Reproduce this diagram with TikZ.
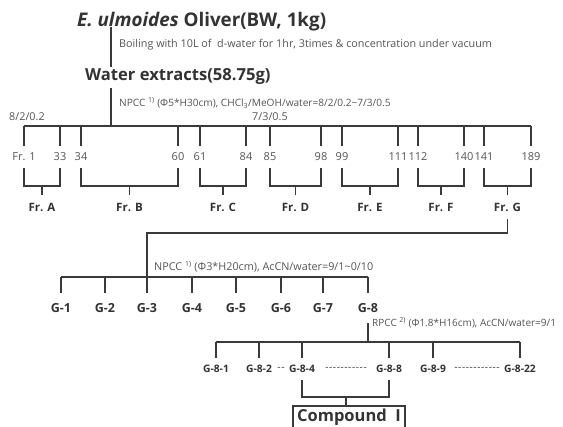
\documentclass[tikz,border=0pt]{standalone}
\usepackage{fontspec}
\setmainfont{Open Sans}
\definecolor{lc}{HTML}{3A3A3A}
\definecolor{tc}{HTML}{333333}
\definecolor{nc}{HTML}{555555}
\newcommand\hyrun[1]{\foreach \i in {1,...,#1}{{-}\hspace{0.6pt}}}
\begin{document}
\begin{tikzpicture}[x=1pt,y=-1pt,
  ln/.style={draw=lc,line width=1.8pt},
  big/.style={font=\bfseries\fontsize{18.8}{21}\selectfont,text=tc,inner sep=0pt,anchor=west},
  note/.style={font=\fontsize{10.8}{12}\selectfont,text=nc,inner sep=0pt,anchor=west},
  num/.style={font=\fontsize{11}{12}\selectfont,text=nc,inner sep=0pt,minimum height=22pt},
  frl/.style={font=\bfseries\fontsize{11.5}{13}\selectfont,text=tc,inner sep=0pt,minimum height=24pt},
  gl/.style={font=\bfseries\fontsize{12.5}{14}\selectfont,text=tc,inner sep=0pt,minimum height=30pt},
  gg/.style={font=\bfseries\fontsize{10.3}{12}\selectfont,text=tc,inner sep=0pt,minimum height=22pt},
  dsh/.style={font=\fontsize{10}{12}\selectfont,text=tc,inner sep=0pt}
]
\useasboundingbox[fill=white] (0,0) rectangle (563,427);

% title and water extracts
\node[big] (title) at (77,22) {\textit{E. ulmoides} Oliver(BW, 1kg)};
\coordinate (t1) at (111,27);
\coordinate (t2) at (111,67);
\draw[ln] (t1) -- (t2);
\node[note] (boil) at (119,45) {Boiling with 10L of \ d-water for 1hr, 3times \& concentration under vacuum};
\node[big,font=\bfseries\fontsize{16.6}{19}\selectfont] (water) at (85,76) {Water extracts(58.75g)};
\coordinate (w1) at (111,88);
\coordinate (w2) at (111,126);
\draw[ln] (w1) -- (w2);
\node[note,font=\fontsize{10.1}{12}\selectfont] (npcc1) at (119,103) {NPCC \textsuperscript{\scriptsize 1)} (Φ5*H30cm), CHCl\textsubscript{3}/MeOH/water=8/2/0.2\textasciitilde7/3/0.5};
\node[note] (r1) at (9,117) {8/2/0.2};
\node[note] (r2) at (252,117) {7/3/0.5};

% fractions
\foreach \a/\b/\la/\lb/\nm in {24/60/Fr. 1/33/A, 81/178/34/60/B, 200/246/61/84/C, 270/321/85/98/D, 342/398/99/111/E, 418/464/112/140/F, 484/531/141/189/G}{
  \coordinate (ta\nm) at (\a,126);
  \coordinate (tb\nm) at (\b,126);
  \node[num] (na\nm) at (\a,157) {\la};
  \node[num] (nb\nm) at (\b,157) {\lb};
  \coordinate (ba\nm) at (\a,186);
  \coordinate (bb\nm) at (\b,186);
  \coordinate (bc\nm) at ({(\a+\b)/2},186);
  \node[frl] (fr\nm) at ({(\a+\b)/2},207) {Fr. \nm};
  \draw[ln] (ta\nm) -- (na\nm.north);
  \draw[ln] (tb\nm) -- (nb\nm.north);
  \draw[ln] (na\nm.south) -- (ba\nm) -- (bb\nm) -- (nb\nm.south);
  \draw[ln] (bc\nm) -- (fr\nm.north);
}
\draw[ln] (taA) -- (tbG);

% Fr. G subfractionation
\coordinate (gtop) at (147,233);
\coordinate (gbar) at (147,277);
\draw[ln] (frG.south) |- (gtop) -- (gbar);
\node[note] (npcc2) at (154,267) {NPCC \textsuperscript{\scriptsize 1)} (Φ3*H20cm), AcCN/water=9/1\textasciitilde0/10};
\foreach \x/\n in {61/1,105/2,147/3,192/4,236/5,281/6,323/7,368/8}{
  \node[gl] (g\n) at (\x,308) {G-\n};
  \coordinate (gt\n) at (\x,277);
  \draw[ln] (gt\n) -- (g\n.north);
}
\draw[ln] (gt1) -- (gt8);

% G-8 subfractionation
\coordinate (h8) at (368,342);
\draw[ln] (g8.south) -- (h8);
\node[note,font=\fontsize{10}{12}\selectfont] (rpcc) at (372,323) {RPCC \textsuperscript{\scriptsize 2)} (Φ1.8*H16cm), AcCN/water=9/1};
\foreach \x/\n in {216/1,259/2,302/4,389/8,433/9,520/22}{
  \node[gg] (k\n) at (\x,369) {G-8-\n};
  \coordinate (kt\n) at (\x,342);
  \draw[ln] (kt\n) -- (k\n.north);
}
\draw[ln] (kt1) -- (kt22);
\node[dsh] (d1) at (281,369) {\hyrun{2}};
\node[dsh] (d2) at (346,369) {\hyrun{11}};
\node[dsh] (d3) at (477,369) {\hyrun{12}};

% compound
\coordinate (c4) at (302,397);
\coordinate (c8) at (389,397);
\coordinate (cc) at (346,397);
\node[draw=lc,line width=1.8pt,font=\bfseries\fontsize{16.5}{18}\selectfont,text=tc,minimum width=112pt,minimum height=22pt,inner sep=0pt] (cmp) at (349,417) {Compound\ \ I};
\draw[ln] (k4.south) -- (c4) -- (c8) -- (k8.south);
\draw[ln] (cc) -- (cc|-cmp.north);
\end{tikzpicture}
\end{document}
